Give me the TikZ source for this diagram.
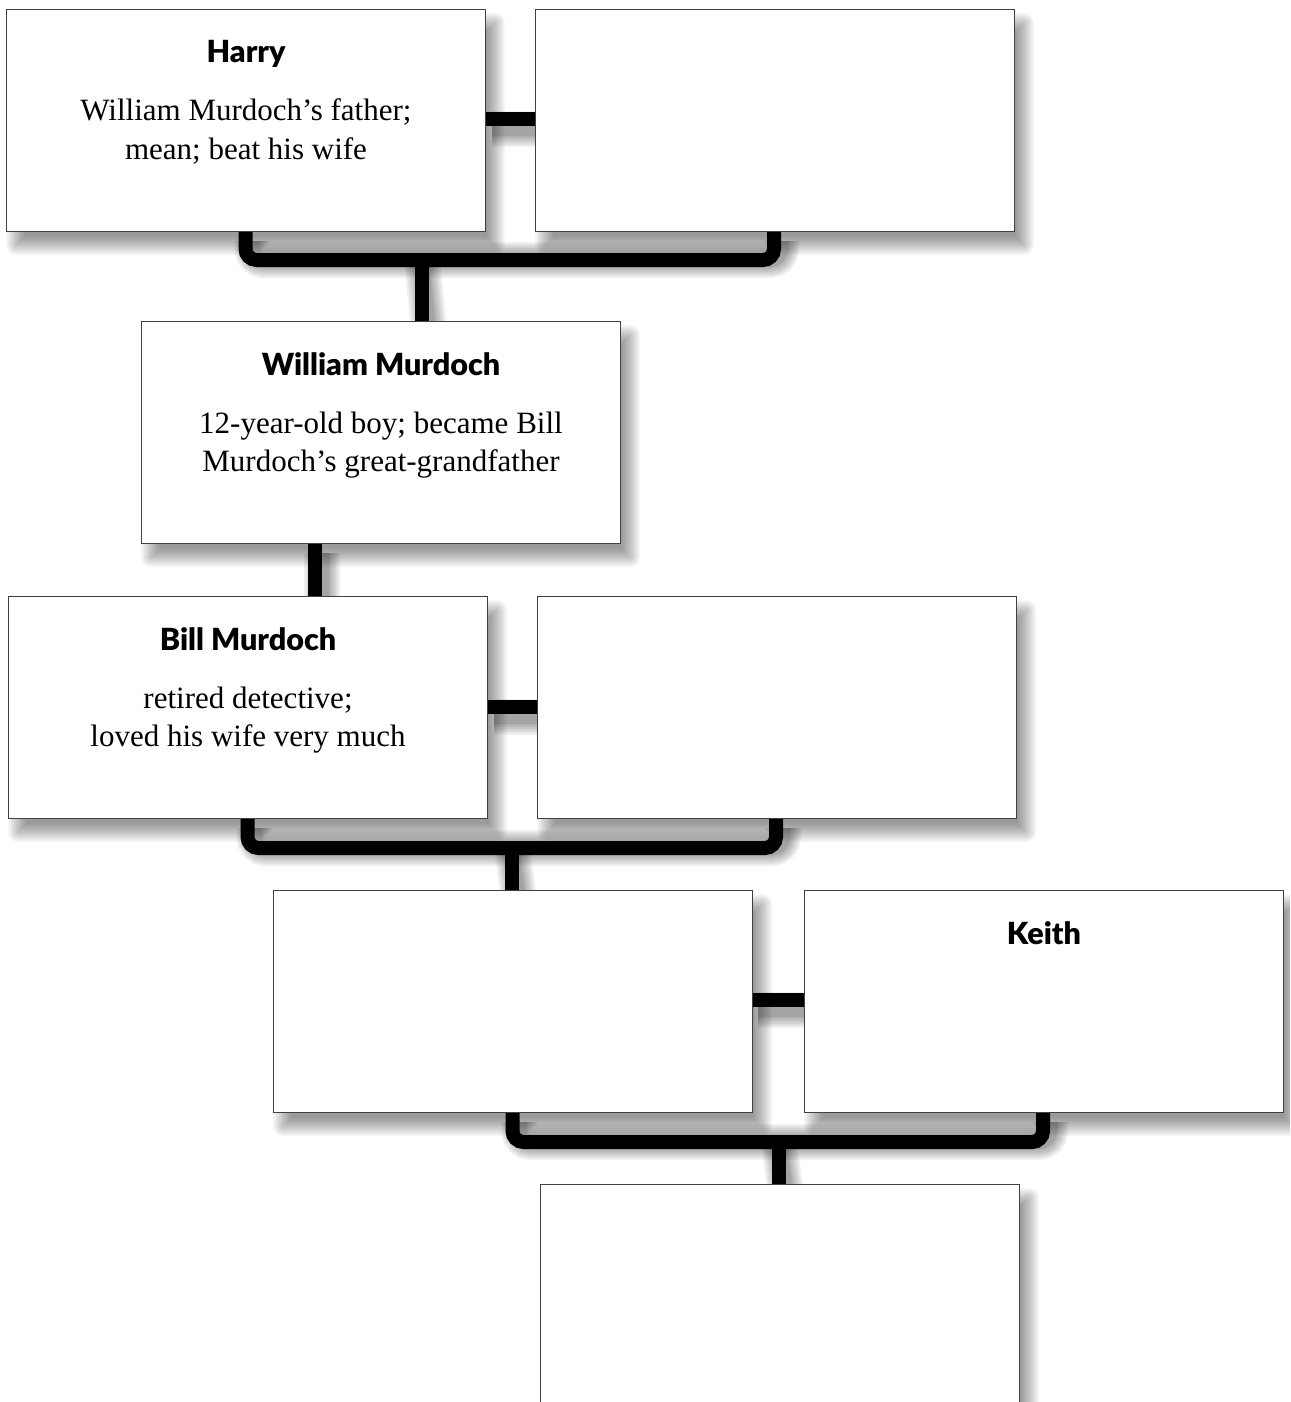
\documentclass[tikz,border=0pt]{standalone}
\usepackage{fontspec}
\setmainfont{Liberation Serif}
\newfontfamily\namefont{Lato Black}
\begin{document}
\begin{tikzpicture}[x=1pt,y=-1pt,
  person/.style={draw=black!75, line width=1pt, fill=white,
    minimum width=479pt, minimum height=222pt, anchor=north west, inner sep=0pt},
  conn/.style={line width=14pt, black, rounded corners=11pt},
  connshadow/.style={line width=#1, black, opacity=0.06, rounded corners=11pt},
  boxshadow/.style={fill=black, opacity=0.034},
  nm/.style={font=\namefont\fontsize{30.5}{34}\selectfont, anchor=base, inner sep=0pt},
  desc/.style={font=\fontsize{31}{38}\selectfont, anchor=base, inner sep=0pt}]
\clip (0,0) rectangle (1290,1402);
\useasboundingbox (0,0) rectangle (1290,1402);
\fill[white] (0,0) rectangle (1290,1402);

% soft box shadows
\newcommand\shadowat[2]{%
  \foreach \e in {-8,-6.5,...,10}{%
    \fill[boxshadow, rounded corners={max(\e,1)*1pt}] (#1+10-\e,#2+14-\e) rectangle (#1+489+\e,#2+236+\e);}}
\shadowat{6}{9}
\shadowat{535}{9}
\shadowat{141}{321}
\shadowat{8}{596}
\shadowat{537}{596}
\shadowat{273}{890}
\shadowat{804}{890}
\shadowat{540}{1184}

% junction coordinates
\coordinate (j1) at (422,260);
\coordinate (j3) at (512,848);
\coordinate (j4) at (779,1142);

% connector geometry
\newcommand\conpaths[1]{%
  \draw[#1] (6+239.5,231) |- (j1) -| (535+239,231);
  \draw[#1] (j1) -- (422,321);
  \draw[#1] (485,119) -- (535,119);
  \draw[#1] (315,543) -- (315,596);
  \draw[#1] (487,707) -- (537,707);
  \draw[#1] (8+239.5,818) |- (j3) -| (537+239,818);
  \draw[#1] (j3) -- (512,890);
  \draw[#1] (751,1000) -- (804,1000);
  \draw[#1] (273+239.5,1112) |- (j4) -| (804+239,1112);
  \draw[#1] (j4) -- (779,1184);
}
\begin{scope}[shift={(7,10)}]
  \foreach \w in {36pt,32pt,28pt,24pt,20pt,16pt,14pt}{\conpaths{connshadow=\w}}
\end{scope}

\conpaths{conn}

\node[person] (harry)  at (6,9) {};
\node[person] (harryw) at (535,9) {};
\node[person] (will)   at (141,321) {};
\node[person] (bill)   at (8,596) {};
\node[person] (billw)  at (537,596) {};
\node[person] (child)  at (273,890) {};
\node[person] (keith)  at (804,890) {};
\node[person] (grand)  at (540,1184) {};

% texts
\node[nm]   (harryname) at ([yshift=-54pt]harry.north) {Harry};
\node[desc] (harryd1)   at ([yshift=-112pt]harry.north) {William Murdoch’s father;};
\node[desc] (harryd2)   at ([yshift=-150pt]harry.north) {mean; beat his wife};

\node[nm]   (willname) at ([yshift=-54pt]will.north) {William Murdoch};
\node[desc] (willd1)   at ([yshift=-112pt]will.north) {12-year-old boy; became Bill};
\node[desc] (willd2)   at ([yshift=-150pt]will.north) {Murdoch’s great-grandfather};

\node[nm]   (billname) at ([yshift=-54pt]bill.north) {Bill Murdoch};
\node[desc] (billd1)   at ([yshift=-112pt]bill.north) {retired detective;};
\node[desc] (billd2)   at ([yshift=-150pt]bill.north) {loved his wife very much};

\node[nm]   (keithname) at ([yshift=-54pt]keith.north) {Keith};
\end{tikzpicture}
\end{document}
